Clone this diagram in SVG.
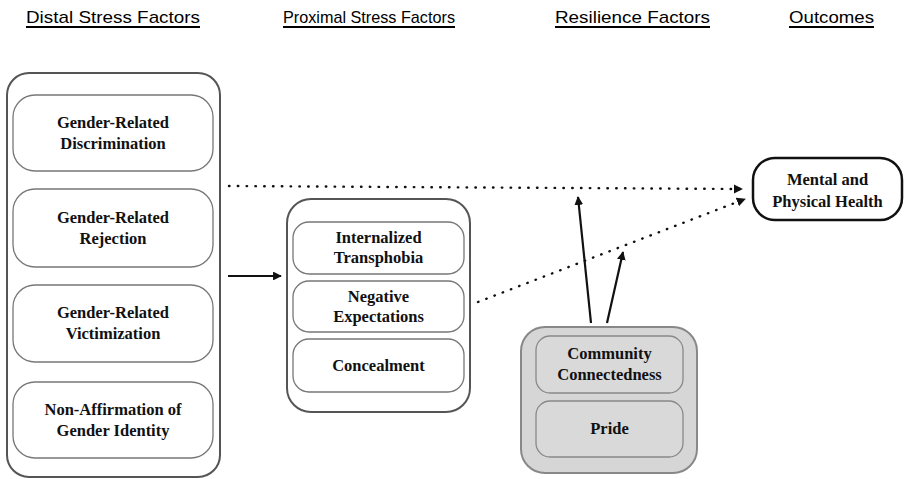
<svg xmlns="http://www.w3.org/2000/svg" width="905" height="479" viewBox="0 0 905 479">
<style>
.hdr{font-family:"Liberation Sans",Arial,sans-serif;font-size:17px;fill:#000}
.ul{stroke:#000;stroke-width:1.8}
.lbl{font-family:"Liberation Serif","Times New Roman",serif;font-weight:bold;font-size:16.5px;fill:#111;text-anchor:middle}
.outer{fill:#fff;stroke:#555;stroke-width:2}
.inner{fill:#fff;stroke:#777;stroke-width:1.3}
.gouter{fill:#d6d6d6;stroke:#888;stroke-width:2}
.ginner{fill:#d9d9d9;stroke:#888;stroke-width:1.3}
.out{fill:#fff;stroke:#111;stroke-width:2.5}
.solid{stroke:#111;stroke-width:2.2;fill:none}
.dot{stroke:#111;stroke-width:2.4;fill:none;stroke-dasharray:0.5 8.3;stroke-linecap:round}
</style>
<defs>
<marker id="ah" viewBox="0 0 10 10" refX="9" refY="5" markerWidth="4" markerHeight="4" orient="auto" markerUnits="strokeWidth">
<path d="M0,0 L10,5 L0,10 z" fill="#111"/>
</marker>
<marker id="ahd" viewBox="0 0 10 10" refX="9" refY="5" markerWidth="3.8" markerHeight="3.8" orient="auto" markerUnits="strokeWidth">
<path d="M0,0 L10,5 L0,10 z" fill="#111"/>
</marker>
</defs>

<g id="headers">
<text class="hdr" x="26" y="23" textLength="174" lengthAdjust="spacingAndGlyphs">Distal Stress Factors</text>
<line class="ul" x1="26" y1="27" x2="200" y2="27"/>
<text class="hdr" x="283" y="23" textLength="172" lengthAdjust="spacingAndGlyphs">Proximal Stress Factors</text>
<line class="ul" x1="283" y1="27" x2="455" y2="27"/>
<text class="hdr" x="555" y="23" textLength="155" lengthAdjust="spacingAndGlyphs">Resilience Factors</text>
<line class="ul" x1="555" y1="27" x2="710" y2="27"/>
<text class="hdr" x="789" y="23" textLength="85" lengthAdjust="spacingAndGlyphs">Outcomes</text>
<line class="ul" x1="789" y1="27" x2="874" y2="27"/>
</g>

<g id="connectors">
<line class="solid" x1="228" y1="276" x2="281" y2="276" marker-end="url(#ah)"/>
<line class="dot" x1="229" y1="186" x2="742" y2="189" marker-end="url(#ahd)"/>
<line class="dot" x1="478" y1="302" x2="745" y2="199" marker-end="url(#ahd)"/>
<line class="solid" x1="591" y1="323" x2="578" y2="197" marker-end="url(#ah)"/>
<line class="solid" x1="607" y1="323" x2="623" y2="252" marker-end="url(#ah)"/>
</g>

<g id="distal">
<rect class="outer" x="7" y="73" width="213" height="404" rx="22"/>
<g id="discrimination">
<rect class="inner" x="13" y="95" width="200" height="76" rx="22"/>
<text class="lbl" x="113" y="127.5">Gender-Related</text>
<text class="lbl" x="113" y="148.5">Discrimination</text>
</g>
<g id="rejection">
<rect class="inner" x="13" y="189" width="200" height="78" rx="22"/>
<text class="lbl" x="113" y="222.5">Gender-Related</text>
<text class="lbl" x="113" y="243.5">Rejection</text>
</g>
<g id="victimization">
<rect class="inner" x="13" y="285" width="200" height="77" rx="22"/>
<text class="lbl" x="113" y="318">Gender-Related</text>
<text class="lbl" x="113" y="339">Victimization</text>
</g>
<g id="nonaffirmation">
<rect class="inner" x="13" y="382" width="200" height="76" rx="22"/>
<text class="lbl" x="113" y="414.5">Non-Affirmation of</text>
<text class="lbl" x="113" y="435.5">Gender Identity</text>
</g>
</g>

<g id="proximal">
<rect class="outer" x="287" y="199" width="183" height="213" rx="24"/>
<g id="transphobia">
<rect class="inner" x="293" y="222" width="171" height="52" rx="16"/>
<text class="lbl" x="378.5" y="243">Internalized</text>
<text class="lbl" x="378.5" y="263">Transphobia</text>
</g>
<g id="expectations">
<rect class="inner" x="293" y="281" width="171" height="51" rx="16"/>
<text class="lbl" x="378.5" y="301.5">Negative</text>
<text class="lbl" x="378.5" y="321.5">Expectations</text>
</g>
<g id="concealment">
<rect class="inner" x="293" y="339" width="171" height="53" rx="16"/>
<text class="lbl" x="378.5" y="370.5">Concealment</text>
</g>
</g>

<g id="resilience">
<rect class="gouter" x="521" y="327" width="176" height="146" rx="24"/>
<g id="community">
<rect class="ginner" x="536" y="336" width="147" height="57" rx="14"/>
<text class="lbl" x="609.5" y="359">Community</text>
<text class="lbl" x="609.5" y="380">Connectedness</text>
</g>
<g id="pride">
<rect class="ginner" x="536" y="401" width="147" height="56" rx="14"/>
<text class="lbl" x="609.5" y="434">Pride</text>
</g>
</g>

<g id="health">
<rect class="out" x="753" y="158" width="149" height="62" rx="22"/>
<text class="lbl" x="827.5" y="185">Mental and</text>
<text class="lbl" x="827.5" y="207">Physical Health</text>
</g>
</svg>
